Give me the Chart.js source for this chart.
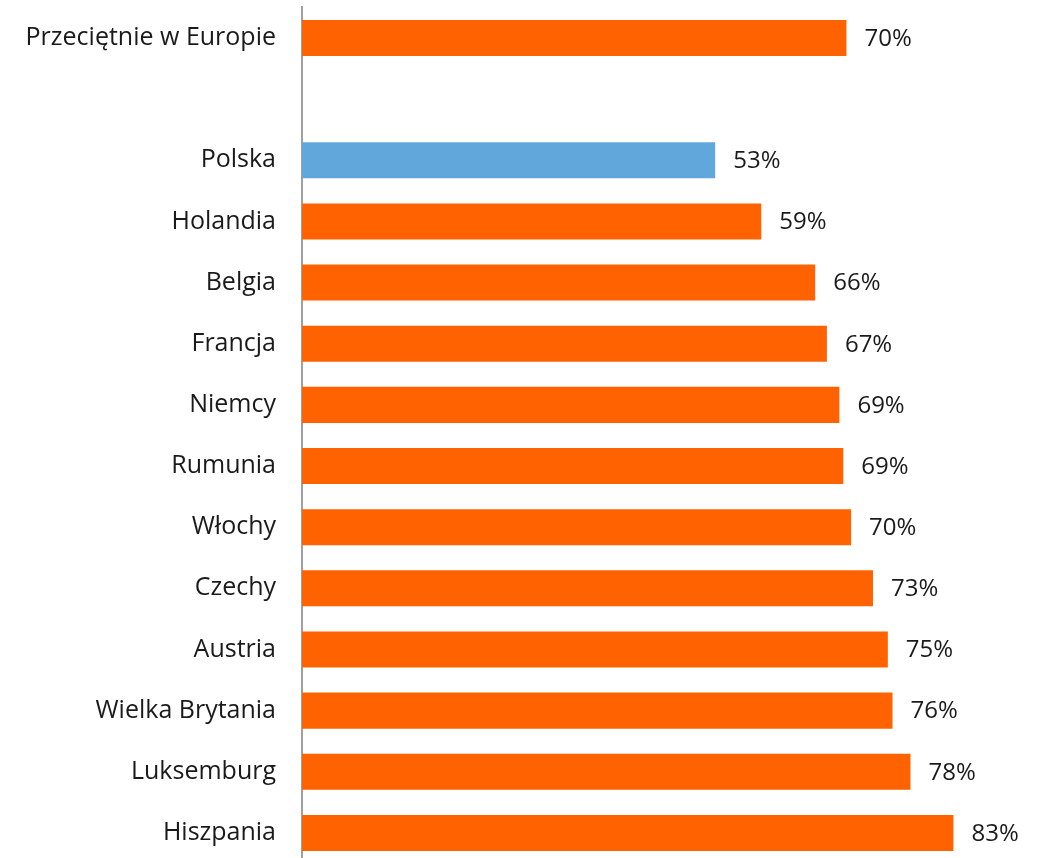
<!DOCTYPE html>
<html>
<head>
<meta charset="utf-8">
<script src="https://cdn.jsdelivr.net/npm/chart.js@4/dist/chart.umd.min.js"></script>
<style>
  html, body { margin: 0; padding: 0; background: #ffffff; overflow: hidden; }
  #wrap { position: absolute; left: 0; top: 0; width: 1041px; height: 866px; }
</style>
</head>
<body>
<div id="wrap"><canvas id="c"></canvas></div>
<script>
const categories = ["Przeciętnie w Europie", "", "Polska", "Holandia", "Belgia", "Francja", "Niemcy", "Rumunia", "Włochy", "Czechy", "Austria", "Wielka Brytania", "Luksemburg", "Hiszpania"];
const values = [69.7, null, 52.9, 58.8, 65.7, 67.2, 68.8, 69.3, 70.3, 73.1, 75.0, 75.6, 77.9, 83.4];
const valueLabels = ["70%", "", "53%", "59%", "66%", "67%", "69%", "69%", "70%", "73%", "75%", "76%", "78%", "83%"];
const barColors = ["#FF6200", "#FF6200", "#62A7DB", "#FF6200", "#FF6200", "#FF6200", "#FF6200", "#FF6200", "#FF6200", "#FF6200", "#FF6200", "#FF6200", "#FF6200", "#FF6200"];

const FONT = "'Open Sans', 'Noto Sans', sans-serif";

const valueLabelPlugin = {
  id: 'valueLabels',
  afterDatasetsDraw(chart) {
    const ctx = chart.ctx;
    const meta = chart.getDatasetMeta(0);
    ctx.save();
    ctx.font = "24px " + FONT;
    ctx.fillStyle = "#1a1a1a";
    ctx.textAlign = "left";
    ctx.textBaseline = "middle";
    meta.data.forEach((bar, i) => {
      const t = valueLabels[i];
      if (!t || values[i] == null) return;
      ctx.fillText(t, bar.x + 18, bar.y + 1);
    });
    ctx.restore();
  }
};

new Chart(document.getElementById('c'), {
  type: 'bar',
  data: {
    labels: categories,
    datasets: [{
      data: values,
      backgroundColor: barColors,
      borderWidth: 0,
      barPercentage: 0.589,
      categoryPercentage: 1.0
    }]
  },
  options: {
    indexAxis: 'y',
    responsive: true,
    maintainAspectRatio: false,
    animation: false,
    events: [],
    layout: { autoPadding: false, padding: { left: 0, right: 36, top: 7.4, bottom: 2.5 } },
    plugins: {
      legend: { display: false },
      tooltip: { enabled: false }
    },
    scales: {
      x: {
        display: false,
        min: 0,
        max: 90
      },
      y: {
        z: 1,
        afterFit(scale) { scale.width = 302; scale.paddingTop = 0; scale.paddingBottom = 0; },
        grid: { display: false, drawTicks: false },
        border: { display: true, color: "#A0A0A0", width: 2 },
        ticks: {
          padding: 26,
          color: "#1a1a1a",
          font: { family: FONT, size: 25 },
          autoSkip: false
        }
      }
    }
  },
  plugins: [valueLabelPlugin]
});
</script>
</body>
</html>
